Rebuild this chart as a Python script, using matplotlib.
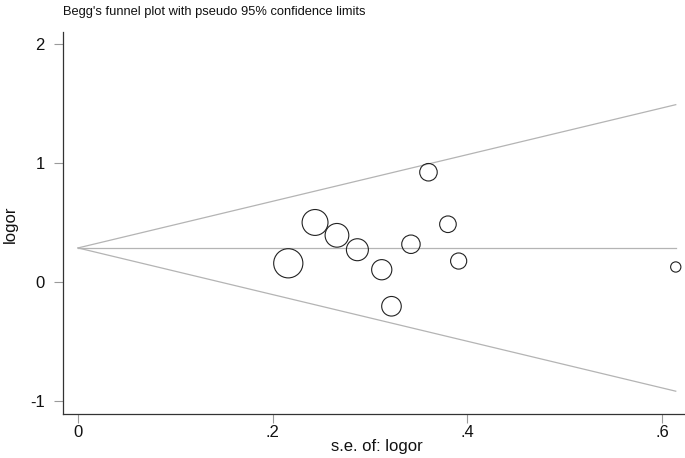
import numpy as np
import matplotlib
matplotlib.use("Agg")
import matplotlib.pyplot as plt

plt.rcParams["font.family"] = ["Liberation Sans", "DejaVu Sans"]
plt.rcParams["axes.unicode_minus"] = False

# study standard errors and log odds ratios
se = np.array([0.216, 0.2435, 0.266, 0.287, 0.312, 0.322, 0.342, 0.360, 0.380, 0.391, 0.614])
logor = np.array([0.157, 0.500, 0.392, 0.271, 0.103, -0.204, 0.317, 0.922, 0.485, 0.176, 0.126])

x_ticks = [0, 0.2, 0.4, 0.6]
x_tick_labels = ["0", ".2", ".4", ".6"]
y_ticks = [-1, 0, 1, 2]

LINE_COLOR = "#b4b4b4"
TICK_COLOR = "#9a9a9a"

W, H = 685, 458
fig = plt.figure(figsize=(W / 100, H / 100), dpi=100)
ax = fig.add_axes([63 / W, 44 / H, 622 / W, 382 / H])

# pooled estimate and pseudo 95% limits
pooled = 0.286
se_line = np.array([0.0, se.max()])
ax.plot(se_line, [pooled, pooled], color=LINE_COLOR, lw=0.9, zorder=1)
ax.plot(se_line, pooled + 1.96 * se_line, color=LINE_COLOR, lw=0.9, zorder=1)
ax.plot(se_line, pooled - 1.96 * se_line, color=LINE_COLOR, lw=0.9, zorder=1)

# circle area proportional to weight 1/se^2
sizes = (4.54 / se) ** 2
ax.scatter(se, logor, s=sizes, facecolors="none", edgecolors="#222222",
           linewidths=0.8, zorder=3)

ax.set_xlim(-0.0154, 0.6235)
ax.set_ylim(-1.109, 2.10)

ax.set_xticks(x_ticks)
ax.set_xticklabels(x_tick_labels)
ax.set_yticks(y_ticks)

ax.tick_params(axis="both", direction="out", length=6.5, width=0.8,
               color=TICK_COLOR, labelsize=12, labelcolor="#111111")
ax.tick_params(axis="x", pad=1.5)
ax.tick_params(axis="y", pad=6.5)

for side in ["top", "right"]:
    ax.spines[side].set_visible(False)
for side in ["left", "bottom"]:
    ax.spines[side].set_color("#333333")
    ax.spines[side].set_linewidth(0.9)

fig.text(377 / W, 1 - 447 / H, "s.e. of: logor", ha="center", va="center",
         fontsize=12, color="#111111")
fig.text(10 / W, 1 - 224 / H, "logor", ha="center", va="center",
         rotation=90, fontsize=12, color="#111111")

fig.text(63 / W, 1 - 12 / H, "Begg's funnel plot with pseudo 95% confidence limits",
         ha="left", va="center", fontsize=9.3, color="#111111")

fig.savefig("out.png", dpi=100)
